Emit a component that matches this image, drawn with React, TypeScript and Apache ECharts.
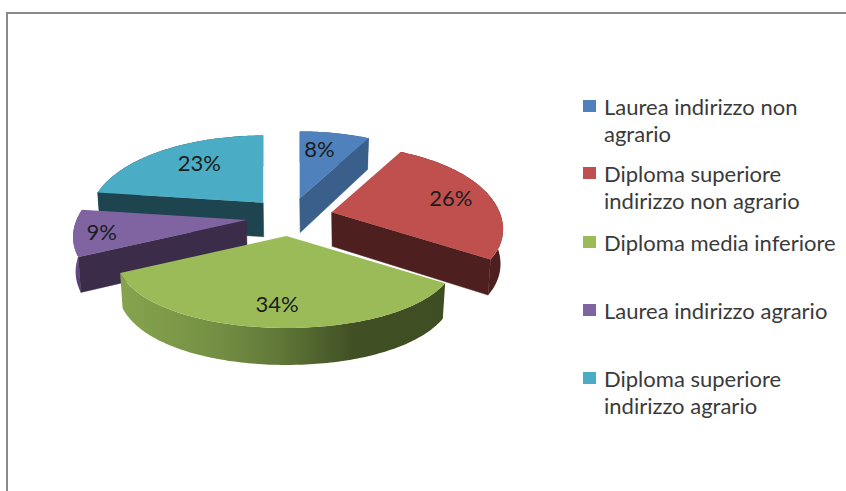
import React, { useEffect, useRef } from "react";
import * as echarts from "echarts";

const categories = [
  "Laurea indirizzo non\nagrario",
  "Diploma superiore\nindirizzo non agrario",
  "Diploma media inferiore",
  "Laurea indirizzo agrario",
  "Diploma superiore\nindirizzo agrario",
];
const values = [8, 26, 34, 9, 23];

const topColors = ["#4f81bd", "#c0504d", "#9bbb59", "#8064a2", "#4bacc6"];
const sideColors = ["#3a5f8b", "#4d1f1e", "#3f4e22", "#3b2c4a", "#1e4450"];
const zRanks = [2, 4, 5, 3, 1];
const labelFx = [0.52, 0.76, 0.75, 0.85, 0.63];
const labelFy = [0.72, 0.72, 0.75, 0.88, 0.72];
const explodeX = [43, 44, 43, 43, 39];
const radiusScale = [1, 1, 1, 1.012, 1.018];

const FONT = "Lato, Open Sans, sans-serif";
const CX = 289, CY = 217, EXPLODE_Y = 19;
const RX = 168, RY = 84, DEPTH = 34;
const TOTAL = values.reduce((a, b) => a + b, 0);

const plane = (deg: number, f = 1, scale = 1) => {
  const t = (deg * Math.PI) / 180;
  const X = Math.sin(t) * f;
  const Y = -Math.cos(t) * f;
  return {
    Y,
    x: (X * RX * scale) / (1 - 0.2 * Y),
    y: (Y * RY) / (Y >= 0 ? 1 - 0.087 * Y : 1 + 0.25 * -Y),
  };
};

function sliceGroup(i: number) {
  const start = (values.slice(0, i).reduce((a, b) => a + b, 0) / TOTAL) * 360;
  const end = start + (values[i] / TOTAL) * 360;
  const mid = (start + end) / 2;
  const rad = (mid * Math.PI) / 180;
  const ax = CX + explodeX[i] * Math.sin(rad);
  const ay = CY - EXPLODE_Y * Math.cos(rad);

  const up: number[][] = [];
  const low: number[][] = [];
  const steps = Math.max(8, Math.round(end - start));
  for (let s = 0; s <= steps; s++) {
    const p = plane(start + ((end - start) * s) / steps, 1, radiusScale[i]);
    up.push([ax + p.x, ay + p.y]);
    low.push([ax + p.x * 0.985, ay + p.y + DEPTH + 3 * p.Y]);
  }
  const apexLow = [ax + 0.5, ay + DEPTH];
  const children: any[] = [];
  const side = sideColors[i];

  let arcFill: any = side;
  if (i === 2) {
    arcFill = new echarts.graphic.LinearGradient(0, 0, 1, 0, [
      { offset: 0, color: "#86a44e" },
      { offset: 0.3, color: "#748f43" },
      { offset: 0.5, color: "#5f7637" },
      { offset: 0.72, color: "#404f24" },
      { offset: 1, color: "#3f4e22" },
    ]);
  } else if (i === 3) {
    arcFill = new echarts.graphic.LinearGradient(0, 0, 0, 1, [
      { offset: 0, color: "#7e62a0" },
      { offset: 0.6, color: "#6d5290" },
      { offset: 1, color: "#4e3a68" },
    ]);
  }
  children.push({
    type: "polygon",
    shape: { points: [...up, ...low.slice().reverse()] },
    style: { fill: arcFill },
  });
  const radial = (idx: number) => ({
    type: "polygon",
    shape: { points: [[ax, ay], up[idx], low[idx], apexLow] },
    style: { fill: side, stroke: side, lineWidth: 0.5 },
  });
  // A cut face shows only when it looks towards the viewer.
  if (end > 0 && end < 180) children.push(radial(steps));
  if (start >= 180 && start < 360) children.push(radial(0));
  children.push({
    type: "polygon",
    shape: { points: [[ax, ay], ...up] },
    style: { fill: topColors[i] },
  });
  children.push({
    type: "text",
    style: {
      text: `${values[i]}%`,
      x: ax + plane(mid, labelFx[i]).x,
      y: ay + plane(mid, labelFy[i]).y,
      align: "center",
      verticalAlign: "middle",
      fill: "#1c1c1c",
      fontFamily: FONT,
      fontSize: 22,
    },
  });
  return { type: "group", children };
}

const ICON_TWO_LINES = "path://M0 0H13V12H0Z M0 39H13V39H0Z";
const legendTops = [92.5, 159.5, 228.5, 296.5, 364.5];

export default function App() {
  const ref = useRef<HTMLDivElement>(null);
  useEffect(() => {
    document.body.style.margin = "0";
    const chart = echarts.init(ref.current!, undefined, { renderer: "svg" });
    chart.setOption({
      animation: false,
      backgroundColor: "#ffffff",
      graphic: [
        {
          type: "rect",
          shape: { x: 7, y: 13, width: 900, height: 600 },
          style: { fill: "none", stroke: "#8a8a8a", lineWidth: 2 },
          silent: true,
        },
      ],
      legend: categories.map((name, i) => ({
        show: true,
        left: 583,
        top: legendTops[i],
        padding: 0,
        itemWidth: 13,
        itemHeight: name.includes("\n") ? 39 : 12,
        itemGap: 0,
        selectedMode: false,
        icon: name.includes("\n") ? ICON_TWO_LINES : "rect",
        data: [name],
        textStyle: {
          fontFamily: FONT,
          fontSize: 22,
          lineHeight: 27,
          color: "#3a3a3a",
          padding: [0, 0, 0, 3],
        },
      })),
      series: categories.map((name, i) => ({
        type: "custom",
        name,
        coordinateSystem: "none",
        z: 2 + zRanks[i],
        silent: true,
        itemStyle: { color: topColors[i] },
        data: [[values[i]]],
        renderItem: () => sliceGroup(i),
      })),
    });
    return () => chart.dispose();
  }, []);
  return <div ref={ref} style={{ width: 846, height: 491 }} />;
}
